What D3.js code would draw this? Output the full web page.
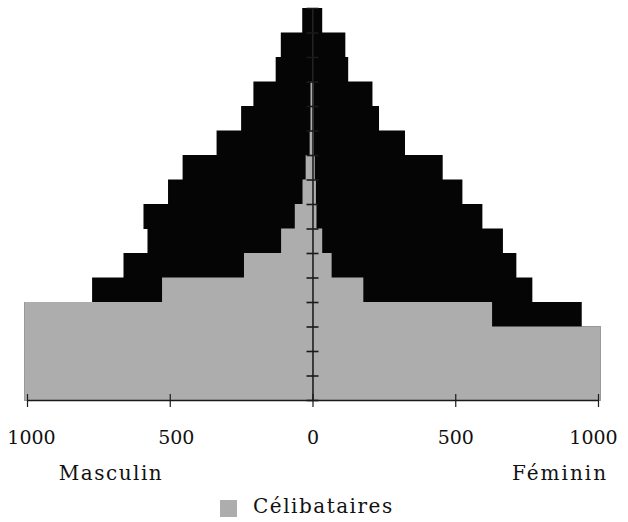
<!DOCTYPE html>
<html>
<head>
<meta charset="utf-8">
<script src="https://cdn.jsdelivr.net/npm/d3@7/dist/d3.min.js"></script>
<style>
  body { margin: 0; background: #fff; }
  svg { display: block; }
  text { font-family: "DejaVu Serif", serif; fill: #111; }
</style>
</head>
<body>
<svg width="628" height="522"></svg>
<script>
// age groups, youngest first (bottom of the pyramid)
var ageGroups = ["0-4", "5-9", "10-14", "15-19", "20-24", "25-29", "30-34", "35-39",
  "40-44", "45-49", "50-54", "55-59", "60-64", "65-69", "70-74", "75+"];

// total population per group (black) and single people (grey)
var maleTotal = [1010, 1010, 1010, 1010, 772, 662, 578, 592, 506, 455, 336, 250, 207, 129, 111, 36];
var maleSingle = [1010, 1010, 1010, 1010, 527, 240, 110, 62, 35, 24, 10, 7, 7, 0, 0, 0];
var femaleTotal = [1010, 1010, 1010, 943, 770, 714, 667, 595, 525, 456, 324, 233, 210, 125, 115, 34];
var femaleSingle = [1010, 1010, 1010, 629, 178, 67, 34, 14, 12, 8, 5, 4, 4, 0, 0, 0];

var xTicks = [-1000, -500, 0, 500, 1000];
var sideLabels = ["Masculin", "Féminin"];
var legendLabel = "Célibataires";

var svg = d3.select("svg");
var black = "#050505", grey = "#adadad";

var x = d3.scaleLinear().domain([-1000, 1000]).range([27, 598]);
var y = d3.scaleBand().domain(ageGroups.slice().reverse()).range([8, 400]);

// one row per age group
var rows = ageGroups.map(function (g, i) {
  return { age: g, mT: maleTotal[i], mS: maleSingle[i], fT: femaleTotal[i], fS: femaleSingle[i] };
});

function drawSide(key, color, sign) {
  svg.append("g").selectAll("rect")
    .data(rows)
    .enter().append("rect")
    .attr("x", function (d) { return sign < 0 ? x(-d[key]) : x(0); })
    .attr("y", function (d) { return y(d.age); })
    .attr("width", function (d) { return Math.abs(x(sign * d[key]) - x(0)); })
    .attr("height", y.bandwidth() + 0.5)
    .attr("fill", color);
}

drawSide("mT", black, -1);
drawSide("fT", black, 1);
drawSide("mS", grey, -1);
drawSide("fS", grey, 1);

// vertical axis through zero, ticks at the group boundaries
var yb = d3.scaleLinear().domain([0, ageGroups.length]).range([400, 8]);
var yAxis = svg.append("g")
  .attr("transform", "translate(" + x(0) + ",0)")
  .call(d3.axisLeft(yb).ticks(ageGroups.length).tickSize(6).tickSizeOuter(0).tickFormat(""));
yAxis.select(".domain").attr("stroke", "#1a1a1a").attr("stroke-width", 1.5);
yAxis.selectAll(".tick line").attr("x2", 6).attr("x1", -6).attr("stroke", "#1a1a1a").attr("stroke-width", 1.6);

// bottom axis
var labelShift = { "-1000": 4, "-500": 6, "0": 0, "500": 0, "1000": -5 };
var xAxis = svg.append("g")
  .attr("transform", "translate(0,400)")
  .call(d3.axisBottom(x).tickValues(xTicks).tickSize(7).tickSizeOuter(0)
    .tickFormat(function (d) { return Math.abs(d); }));
xAxis.select(".domain").attr("stroke", "#1a1a1a").attr("stroke-width", 1.5);
xAxis.selectAll(".tick line").attr("y1", -6).attr("stroke", "#1a1a1a").attr("stroke-width", 1.2);
xAxis.selectAll(".tick text")
  .attr("y", 44).attr("dy", 0)
  .attr("dx", function (d) { return labelShift[d]; })
  .style("font-family", "DejaVu Serif")
  .style("font-size", "19px")
  .attr("fill", "#111");

// side labels
svg.append("text").attr("x", 111).attr("y", 480).attr("text-anchor", "middle")
  .style("font-size", "20px").style("letter-spacing", "1.5px").text(sideLabels[0]);
svg.append("text").attr("x", 560).attr("y", 480).attr("text-anchor", "middle")
  .style("font-size", "20px").style("letter-spacing", "2px").text(sideLabels[1]);

// legend
svg.append("rect").attr("x", 220).attr("y", 500).attr("width", 17).attr("height", 17).attr("fill", grey);
svg.append("text").attr("x", 253).attr("y", 513)
  .style("font-size", "20px").style("letter-spacing", "1.5px").text(legendLabel);
</script>
</body>
</html>
